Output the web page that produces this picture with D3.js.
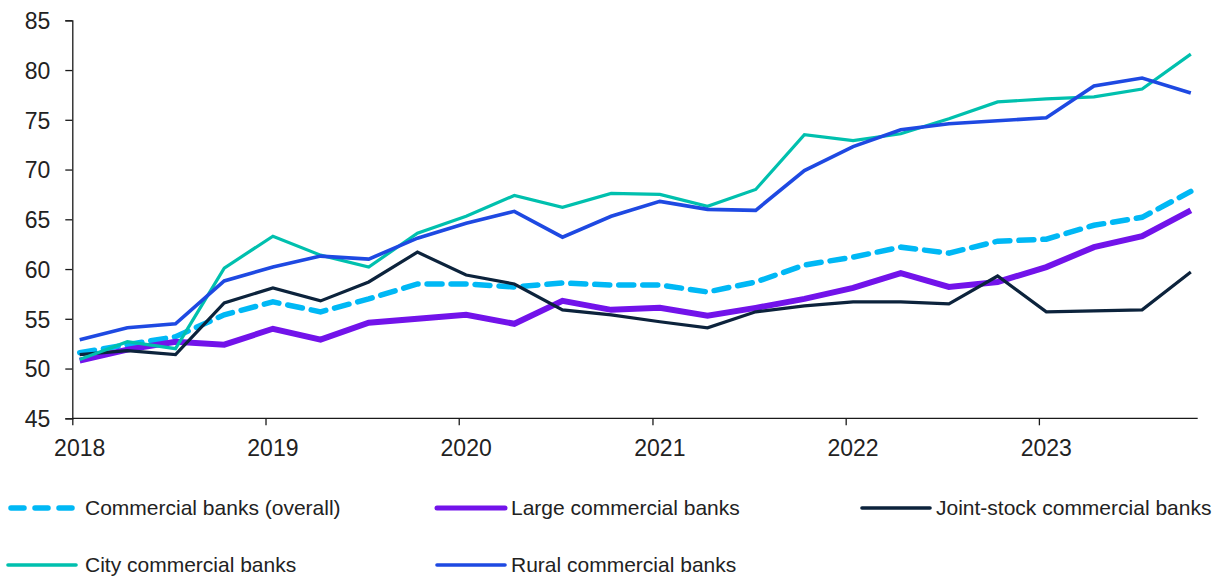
<!DOCTYPE html>
<html>
<head>
<meta charset="utf-8">
<script src="https://cdn.jsdelivr.net/npm/d3@7"></script>
<style>
  html, body { margin: 0; padding: 0; background: #fff; }
  svg text { font-family: "Liberation Sans", Arial, sans-serif; fill: #222; }
</style>
</head>
<body>
<svg id="chart" width="1228" height="579"></svg>
<script>
// Quarterly observation dates (one point per quarter, 2018 Q1 – 2023 Q4)
const quarters = [
  "2018-01-15","2018-04-15","2018-07-15","2018-10-15",
  "2019-01-15","2019-04-15","2019-07-15","2019-10-15",
  "2020-01-15","2020-04-15","2020-07-15","2020-10-15",
  "2021-01-15","2021-04-15","2021-07-15","2021-10-15",
  "2022-01-15","2022-04-15","2022-07-15","2022-10-15",
  "2023-01-15","2023-04-15","2023-07-15","2023-10-15"
];

const overall = [51.6, 52.4, 53.2, 55.4, 56.7, 55.7, 57.0, 58.5, 58.5, 58.2, 58.6, 58.4,
                 58.4, 57.7, 58.7, 60.4, 61.2, 62.2, 61.6, 62.8, 63.0, 64.4, 65.2, 67.8];
const large = [50.8, 51.9, 52.7, 52.4, 54.0, 52.9, 54.6, 55.0, 55.4, 54.5, 56.8, 55.9,
               56.1, 55.3, 56.1, 57.0, 58.1, 59.6, 58.2, 58.7, 60.2, 62.2, 63.3, 65.9];
const jointStock = [51.4, 51.8, 51.4, 56.6, 58.1, 56.8, 58.7, 61.7, 59.4, 58.5, 55.9, 55.4,
                    54.7, 54.1, 55.7, 56.3, 56.7, 56.7, 56.5, 59.3, 55.7, 55.8, 55.9, 59.7];
const city = [50.9, 52.7, 52.0, 60.1, 63.3, 61.4, 60.2, 63.6, 65.3, 67.4, 66.2, 67.6,
              67.5, 66.3, 68.0, 73.5, 72.9, 73.6, 75.1, 76.8, 77.1, 77.3, 78.1, 81.6];
const rural = [52.9, 54.1, 54.5, 58.8, 60.2, 61.3, 61.0, 63.1, 64.6, 65.8, 63.2, 65.3,
               66.8, 66.0, 65.9, 69.9, 72.3, 74.0, 74.6, 74.9, 75.2, 78.4, 79.2, 77.7];

const yTicks = [45, 50, 55, 60, 65, 70, 75, 80, 85];
const yearTicks = [2018, 2019, 2020, 2021, 2022, 2023];

const seriesNames = [
  "Commercial banks (overall)", "Large commercial banks", "Joint-stock commercial banks",
  "City commercial banks", "Rural commercial banks"
];

const series = [
  { name: seriesNames[0], values: overall,    color: "#00b8f5", width: 5.5, dash: "15 9" },
  { name: seriesNames[1], values: large,      color: "#7213ea", width: 6,   dash: null },
  { name: seriesNames[2], values: jointStock, color: "#0c233c", width: 3.2, dash: null },
  { name: seriesNames[3], values: city,       color: "#00c0ae", width: 3.2, dash: null },
  { name: seriesNames[4], values: rural,      color: "#1e49e2", width: 3.6, dash: null }
];

const parse = d3.timeParse("%Y-%m-%d");
const dates = quarters.map(parse);

const svg = d3.select("#chart");

const x = d3.scaleTime()
  .domain([new Date(2018, 0, 1), new Date(2023, 9, 28)])
  .range([72.3, 1197.7]);

const y = d3.scaleLinear()
  .domain([45, 85])
  .range([418.3, 20.3]);

// Y axis
const yAxis = d3.axisLeft(y)
  .tickValues(yTicks)
  .tickSize(7)
  .tickPadding(15);
const gy = svg.append("g")
  .attr("transform", `translate(${x.range()[0]},0)`)
  .call(yAxis);
gy.select(".domain").attr("stroke", "#1a1a1a").attr("stroke-width", 1.3);
gy.selectAll(".tick line").attr("stroke", "#1a1a1a").attr("stroke-width", 1.3);
gy.selectAll(".tick text").style("font-size", "23px").attr("fill", "#222").attr("dy", "0.36em");

// X axis: year ticks on Jan 1, labels under the first quarter of each year
const yearStarts = yearTicks.map(yr => new Date(yr, 0, 1));
const gx = svg.append("g")
  .attr("transform", `translate(0,${y.range()[0]})`)
  .call(d3.axisBottom(x).tickValues(yearStarts).tickSize(7).tickFormat(""));
gx.select(".domain").attr("stroke", "#1a1a1a").attr("stroke-width", 1.3)
  .attr("d", `M${x.range()[0]},0H${x.range()[1]}`);
gx.selectAll(".tick line").attr("stroke", "#1a1a1a").attr("stroke-width", 1.3);
gx.selectAll(".year-label")
  .data(yearTicks)
  .enter().append("text")
  .attr("class", "year-label")
  .attr("x", yr => x(new Date(yr, 0, 15)))
  .attr("y", 38)
  .attr("text-anchor", "middle")
  .style("font-size", "23px")
  .text(yr => yr);

// Lines
const line = d3.line()
  .x((d, i) => x(dates[i]))
  .y(d => y(d))
  .curve(d3.curveLinear);

svg.append("g").selectAll("path")
  .data(series)
  .enter().append("path")
  .attr("d", s => line(s.values))
  .attr("fill", "none")
  .attr("stroke", s => s.color)
  .attr("stroke-width", s => s.width)
  .attr("stroke-dasharray", s => s.dash)
  .attr("stroke-linecap", s => s.dash ? "round" : "butt")
  .attr("stroke-linejoin", "miter");

// Legend
const legendPos = [
  { x: 8,   y: 508 }, { x: 437, y: 508 }, { x: 862, y: 508 },
  { x: 8,   y: 565 }, { x: 437, y: 565 }
];
const lg = svg.append("g").selectAll("g")
  .data(series)
  .enter().append("g")
  .attr("transform", (s, i) => `translate(${legendPos[i].x},${legendPos[i].y})`);
lg.append("line")
  .attr("x1", (s) => s.dash ? 3 : 0)
  .attr("x2", (s) => s.dash ? 64 : 68)
  .attr("y1", 0).attr("y2", 0)
  .attr("stroke", s => s.color)
  .attr("stroke-width", s => s.dash ? 5.5 : (s.width > 5 ? 5 : 3.6))
  .attr("stroke-dasharray", s => s.dash ? "13 11" : null)
  .attr("stroke-linecap", "round");
lg.append("text")
  .attr("x", (s, i) => (i % 3 === 0 ? 77 : 74))
  .attr("y", 0)
  .attr("dy", "0.35em")
  .style("font-size", "21px")
  .text(s => s.name);
</script>
</body>
</html>
